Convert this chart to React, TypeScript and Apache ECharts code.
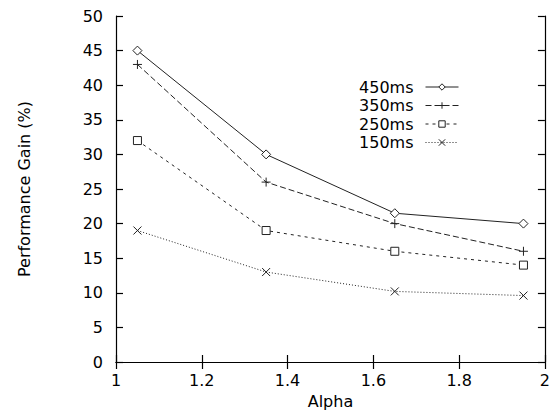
import React, { useEffect, useRef } from "react";
import * as echarts from "echarts";

const alpha = [1.05, 1.35, 1.65, 1.95];
const s450 = [45, 30, 21.5, 20];
const s350 = [43, 26, 20, 16];
const s250 = [32, 19, 16, 14];
const s150 = [19, 13, 10.2, 9.6];
const seriesNames = ["450ms", "350ms", "250ms", "150ms"];

const FONT = "DejaVu Sans";
const FS = 16;
const PLUS = "path://M0,5L10,5M5,0L5,10";
const CROSS = "path://M0,0L10,10M0,10L10,0";

export default function App() {
  const ref = useRef<HTMLDivElement>(null);
  useEffect(() => {
    if (!ref.current) return;
    const chart = echarts.init(ref.current, null, { renderer: "svg" });
    const mk = (name: string, vals: number[], symbol: string, size: number, dash: any, fill: string) => ({
      name,
      type: "line",
      data: alpha.map((a, i) => [a, vals[i]]),
      symbol,
      symbolSize: size,
      showSymbol: true,
      lineStyle: { color: "#222", width: 1, type: dash },
      itemStyle: { color: fill, borderColor: "#222", borderWidth: 1 },
      xAxisIndex: 0,
      yAxisIndex: 0,
    });
    const axisCommon = {
      axisLine: { show: true, lineStyle: { color: "#000", width: 1.2 } },
      axisTick: { show: true, inside: true, length: 7, lineStyle: { color: "#000", width: 1.2 } },
      splitLine: { show: false },
    };
    chart.setOption({
      animation: false,
      backgroundColor: "#fff",
      grid: { left: 116, right: 3, top: 16, bottom: 50, containLabel: false },
      legend: {
        orient: "vertical",
        right: 89,
        top: 74,
        align: "right",
        itemWidth: 33,
        itemHeight: 8,
        itemGap: 2.5,
        data: seriesNames,
        lineStyle: { width: 1 },
        itemStyle: { borderWidth: 1 },
        textStyle: { fontFamily: FONT, fontSize: FS, color: "#000", padding: [0, 7, 0, 0] },
      },
      xAxis: [
        {
          type: "value",
          min: 1,
          max: 2,
          interval: 0.2,
          position: "bottom",
          name: "Alpha",
          nameLocation: "middle",
          nameGap: 31,
          nameTextStyle: { fontFamily: FONT, fontSize: FS, color: "#000" },
          axisLabel: { fontFamily: FONT, fontSize: FS, color: "#000", margin: 10 },
          ...axisCommon,
        },
        {
          type: "value",
          min: 1,
          max: 2,
          interval: 0.2,
          position: "top",
          axisLabel: { show: false },
          ...axisCommon,
        },
      ],
      yAxis: [
        {
          type: "value",
          min: 0,
          max: 50,
          interval: 5,
          position: "left",
          name: "Performance Gain (%)",
          nameLocation: "middle",
          nameGap: 84,
          nameRotate: 90,
          nameTextStyle: { fontFamily: FONT, fontSize: FS, color: "#000" },
          axisLabel: { fontFamily: FONT, fontSize: FS, color: "#000", margin: 13 },
          ...axisCommon,
        },
        {
          type: "value",
          min: 0,
          max: 50,
          interval: 5,
          position: "right",
          axisLabel: { show: false },
          ...axisCommon,
        },
      ],
      series: [
        mk(seriesNames[0], s450, "diamond", 9, "solid", "#fff"),
        mk(seriesNames[1], s350, PLUS, 9, [6, 3], "none"),
        mk(seriesNames[2], s250, "rect", 8, [3, 4], "#fff"),
        mk(seriesNames[3], s150, CROSS, 8, [1, 2], "none"),
      ],
    });
    return () => chart.dispose();
  }, []);
  return <div ref={ref} style={{ width: 553, height: 414, position: "absolute", left: 0, top: 0 }} />;
}
